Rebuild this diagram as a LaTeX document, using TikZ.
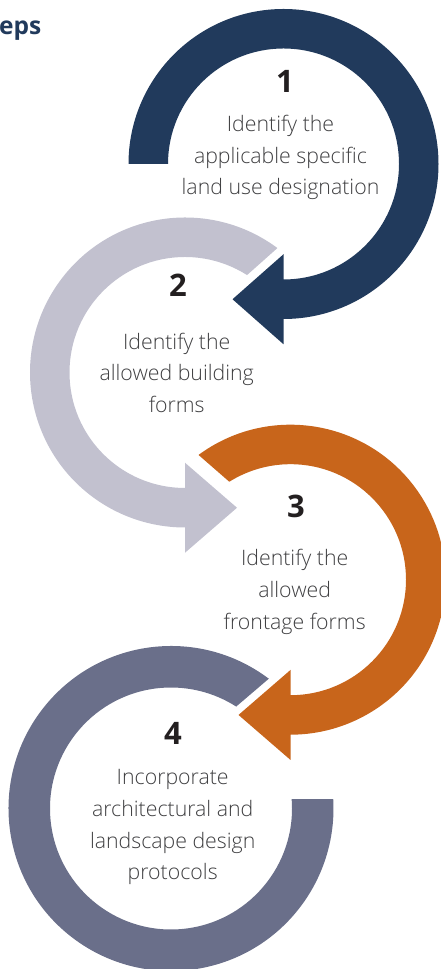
\documentclass[tikz,border=0pt]{standalone}
\usepackage{fontspec}
\IfFontExistsTF{Open Sans Light}{\setmainfont{Open Sans Light}[BoldFont={Open Sans Bold}]}{\setmainfont{Open Sans}}
\usetikzlibrary{calc}
\definecolor{cnavy}{HTML}{213A5C}
\definecolor{cgray}{HTML}{C2C1CF}
\definecolor{corange}{HTML}{C8651B}
\definecolor{cslate}{HTML}{6A6F8A}
\definecolor{ctext}{HTML}{3F3F41}
\definecolor{cnum}{HTML}{231F20}
\begin{document}
\begin{tikzpicture}[x=1pt,y=1pt,
  body/.style={font=\fontsize{21.3}{31.7}\selectfont, text=ctext, align=center, inner sep=0pt, anchor=base},
  num/.style={font=\fontsize{31}{31}\selectfont\bfseries, text=cnum, inner sep=0pt, anchor=base},
  head/.style={font=\fontsize{24.5}{24.5}\selectfont\bfseries, text=cnavy, inner sep=0pt, anchor=base west}]
\useasboundingbox (0,0) rectangle (440,969);
% step 2 (light gray)
\begin{scope}[shift={(185,596.5)}]
\fill[cgray] (53.4:155) arc[start angle=53.4,end angle=270,radius=155] -- (0,-180.25) -- (52,-135.25) -- (0,-90.25) -- (0,-115.5) arc[start angle=270,end angle=57.5,radius=115.5] -- cycle;
\end{scope}
% step 1 (navy)
\begin{scope}[shift={(283.5,805)}]
\fill[cnavy] (180:155) arc[start angle=180,end angle=-90,radius=155] -- (0,-180.25) -- (-51,-135.25) -- (0,-90.25) -- (0,-115.5) arc[start angle=-90,end angle=180,radius=115.5] -- cycle;
\end{scope}
% step 3 (orange)
\begin{scope}[shift={(290.5,389.3)}]
\fill[corange] (126.4:155) arc[start angle=126.4,end angle=-90,radius=155] -- (0,-180.25) -- (-52,-135.25) -- (0,-90.25) -- (0,-115.5) arc[start angle=-90,end angle=122,radius=115.5] -- cycle;
\end{scope}
% step 4 (slate)
\begin{scope}[shift={(171,160.5)}]
\fill[cslate] (53:162.5) arc[start angle=53,end angle=363.35,radius=162.5] -- (364.5:121) arc[start angle=364.5,end angle=57.4,radius=121] -- cycle;
\end{scope}
% heading fragment
\node[head] (hd) at (-1,934) {eps};
% numbers
\node[num] (n1) at (285,876) {1};
\node[num] (n2) at (178,672) {2};
\node[num] (n3) at (296,451) {3};
\node[num] (n4) at (173,224) {4};
% texts (anchor = baseline of the last line)
\node[body] (s1) at (280.5,774) {Identify the\\applicable specific\\land use designation};
\node[body] (s2) at (176.7,556.3) {Identify the\\allowed building\\forms};
\node[body] (s3) at (294.7,339.7) {Identify the\\allowed\\frontage forms};
\node[body] (s4) at (172.7,89) {Incorporate\\architectural and\\landscape design\\protocols};
\end{tikzpicture}
\end{document}
